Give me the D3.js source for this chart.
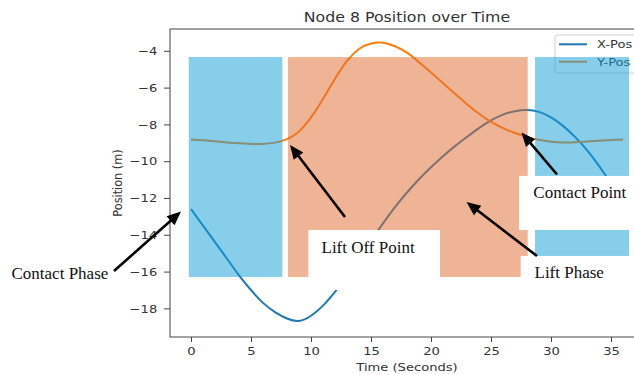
<!DOCTYPE html>
<html>
<head>
<meta charset="utf-8">
<script src="https://cdn.jsdelivr.net/npm/d3@7"></script>
<style>
    body { margin: 0; background: #fff; }
    svg { display: block; }
</style>
</head>
<body>
<div id="chart"></div>
<script>
// data
var times = [0, 1, 2, 3, 4, 5, 6, 7, 8, 9, 10, 11, 12, 13, 14, 15, 16, 17, 18,
    19, 20, 21, 22, 23, 24, 25, 26, 27, 28, 29, 30, 31, 32, 33, 34, 35, 36];
var xPos = [-12.6, -13.5, -14.4, -15.3, -16.2, -17.0, -17.7, -18.2, -18.55, -18.68,
    -18.4, -17.85, -17.1, -16.25, -15.3, -14.32, -13.38, -12.5, -11.7, -10.98,
    -10.33, -9.73, -9.18, -8.68, -8.2, -7.78, -7.47, -7.28, -7.22, -7.32,
    -7.62, -8.08, -8.68, -9.4, -10.25, -11.2, -12.2];
var yPos = [-8.82, -8.86, -8.92, -8.98, -9.03, -9.06, -9.06, -8.99, -8.8, -8.38,
    -7.62, -6.62, -5.52, -4.55, -3.9, -3.6, -3.56, -3.75, -4.1, -4.62,
    -5.18, -5.76, -6.34, -6.9, -7.42, -7.86, -8.2, -8.47, -8.68, -8.84,
    -8.94, -8.98, -8.97, -8.93, -8.89, -8.85, -8.82];

var seriesNames = ["X-Pos", "Y-Pos"];
var seriesColors = ["#1f77b4", "#ff7f0e"];
var xTicks = [0, 5, 10, 15, 20, 25, 30, 35];
var yTicks = [-4, -6, -8, -10, -12, -14, -16, -18];

// phase overlays, in data units (t0, t1, top, bottom)
var contactPhases = [[-0.19, 7.61, -4.34, -16.29], [28.67, 36.5, -4.34, -15.15]];
var liftPhases = [[8.08, 28.06, -4.34, -15.15], [8.08, 27.47, -15.15, -16.29]];
var labelBoxes = [[9.78, 20.75, -13.74, -17.0], [27.33, 40, -10.8, -13.74]];

// hand drawn notes on top of the figure
var notes = [
    {text: "Contact Phase", tx: 11.5, ty: 278.5, from: [114, 271], to: [181, 211.5]},
    {text: "Lift Off Point", tx: 321.5, ty: 252.7, from: [345, 217], to: [290, 145]},
    {text: "Contact Point", tx: 533.3, ty: 198.3, from: [557, 174.5], to: [521.5, 132.5]},
    {text: "Lift Phase", tx: 534.5, ty: 278.3, from: [537, 256], to: [466.5, 202]}
];

var W = 634, H = 375;
var SX = 1.16; // the figure is stretched sideways
var box = {left: 170, right: 647, top: 29, bottom: 337};

var svg = d3.select("#chart").append("svg")
    .attr("width", W)
    .attr("height", H);

var x = d3.scaleLinear().domain([-1.75, 38.0]).range([box.left, box.right]);
var y = d3.scaleLinear().domain([-19.555, -2.815]).range([box.bottom, box.top]);

var font = "'DejaVu Sans', sans-serif";

// axes
var xAxis = d3.axisBottom(x).tickValues(xTicks).tickSize(5).tickPadding(5).tickSizeOuter(0);
var yAxis = d3.axisLeft(y).tickValues(yTicks).tickSize(6).tickPadding(5).tickSizeOuter(0)
    .tickFormat(function (d) { return d3.format("d")(d).replace("-", "\u2212"); });

var gx = svg.append("g")
    .attr("transform", "translate(0," + box.bottom + ")")
    .call(xAxis);
var gy = svg.append("g")
    .attr("transform", "translate(" + box.left + ",0)")
    .call(yAxis);

[gx, gy].forEach(function (g) {
    g.select(".domain").remove();
    g.selectAll("line").attr("stroke", "#444").attr("stroke-width", 1);
    g.selectAll("text")
        .attr("fill", "#333")
        .style("font-family", font)
        .style("font-size", "11.3px")
        .attr("transform", "scale(" + SX + ",1)");
});

svg.append("rect")
    .attr("x", box.left)
    .attr("y", box.top)
    .attr("width", box.right - box.left)
    .attr("height", box.bottom - box.top)
    .attr("fill", "none")
    .attr("stroke", "#444")
    .attr("stroke-width", 1);

// series
var series = [xPos, yPos];
var line = d3.line()
    .x(function (d, i) { return x(times[i]); })
    .y(function (d) { return y(d); })
    .curve(d3.curveNatural);

series.forEach(function (s, k) {
    svg.append("path")
        .datum(s)
        .attr("d", line)
        .attr("fill", "none")
        .attr("stroke", seriesColors[k])
        .attr("stroke-width", 2);
});

// titles
svg.append("text")
    .attr("transform", "translate(" + 407 + ",21.5) scale(" + SX + ",1)")
    .attr("text-anchor", "middle")
    .style("font-family", font)
    .style("font-size", "13.6px")
    .attr("fill", "#333")
    .text("Node 8 Position over Time");

svg.append("text")
    .attr("transform", "translate(" + 407 + ",371) scale(" + SX + ",1)")
    .attr("text-anchor", "middle")
    .style("font-family", font)
    .style("font-size", "11.3px")
    .attr("fill", "#333")
    .text("Time (Seconds)");

svg.append("text")
    .attr("transform", "translate(122," + ((box.top + box.bottom) / 2) + ") scale(" + SX + ",1) rotate(-90)")
    .attr("text-anchor", "middle")
    .style("font-family", font)
    .style("font-size", "11.3px")
    .attr("fill", "#333")
    .text("Position (m)");

// legend
var legend = svg.append("g").attr("transform", "translate(555,35)");
legend.append("rect")
    .attr("width", 85)
    .attr("height", 38)
    .attr("rx", 3)
    .attr("fill", "#fff")
    .attr("fill-opacity", 0.8)
    .attr("stroke", "#d0d0d0");
seriesNames.forEach(function (name, k) {
    var row = legend.append("g").attr("transform", "translate(0," + (9.3 + k * 17.4) + ")");
    row.append("line")
        .attr("x1", 4).attr("x2", 32)
        .attr("stroke", seriesColors[k])
        .attr("stroke-width", 2);
    row.append("text")
        .attr("transform", "translate(42,4) scale(" + SX + ",1)")
        .style("font-family", font)
        .style("font-size", "11.3px")
        .attr("fill", "#333")
        .text(name);
});

// phase overlays, half transparent so the lines show through
function drawBoxes(list, color, opacity) {
    svg.append("g").selectAll("rect")
        .data(list)
        .enter()
        .append("rect")
        .attr("x", function (d) { return x(d[0]); })
        .attr("y", function (d) { return y(d[2]); })
        .attr("width", function (d) { return x(d[1]) - x(d[0]); })
        .attr("height", function (d) { return y(d[3]) - y(d[2]); })
        .attr("fill", color)
        .attr("fill-opacity", opacity);
}
drawBoxes(contactPhases, "rgb(15,157,215)", 0.5);
drawBoxes(liftPhases, "rgb(223,105,45)", 0.5);
drawBoxes(labelBoxes, "#fff", 1);

// notes and arrows
var noteG = svg.append("g");
notes.forEach(function (n) {
    var dx = n.to[0] - n.from[0], dy = n.to[1] - n.from[1];
    var len = Math.sqrt(dx * dx + dy * dy);
    var ux = dx / len, uy = dy / len;
    var headL = 14, headW = 6;
    var bx = n.to[0] - ux * headL, by = n.to[1] - uy * headL;

    noteG.append("line")
        .attr("x1", n.from[0]).attr("y1", n.from[1])
        .attr("x2", bx + ux * 2).attr("y2", by + uy * 2)
        .attr("stroke", "#000")
        .attr("stroke-width", 2.6);

    noteG.append("polygon")
        .attr("points", [
            [n.to[0], n.to[1]],
            [bx - uy * headW, by + ux * headW],
            [bx + uy * headW, by - ux * headW]
        ].join(" "))
        .attr("fill", "#000");

    noteG.append("text")
        .attr("x", n.tx)
        .attr("y", n.ty)
        .style("font-family", "'Liberation Serif', 'Times New Roman', serif")
        .style("font-size", "17px")
        .attr("fill", "#111")
        .text(n.text);
});
</script>
</body>
</html>
